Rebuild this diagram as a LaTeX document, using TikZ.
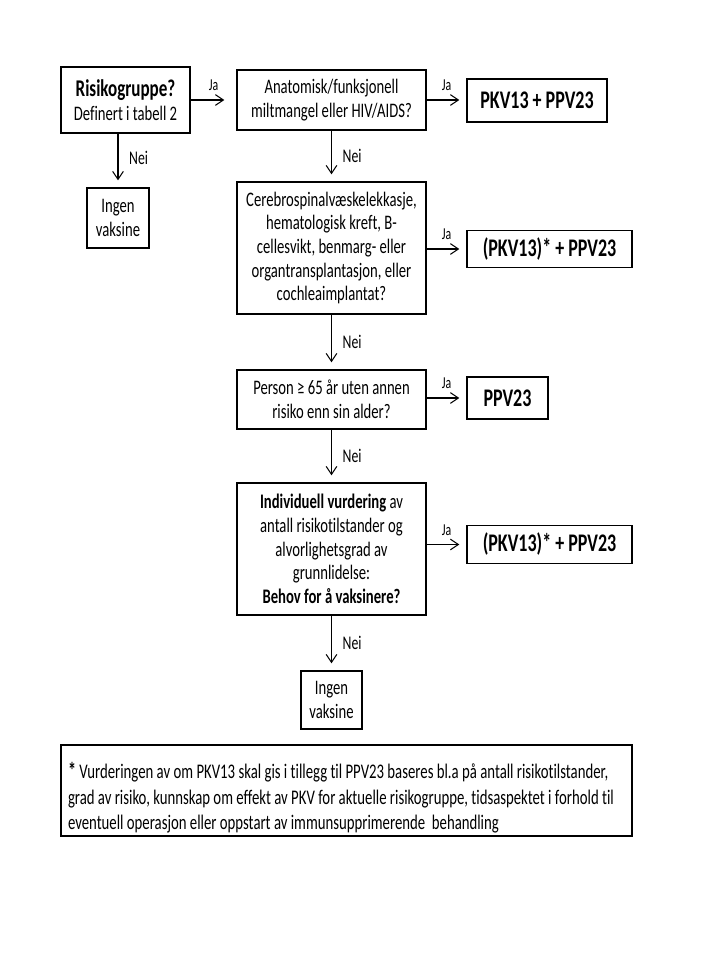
\documentclass[tikz,border=0pt]{standalone}
\usepackage{fontspec}
\setmainfont{Carlito}[FakeStretch=0.71, Ligatures=NoCommon]
\usetikzlibrary{arrows.meta}
\begin{document}
\begin{tikzpicture}[x=0.75pt,y=-0.75pt,
  every node/.style={execute at begin node={\spaceskip=0pt\xspaceskip=0pt}},
  box/.style={draw, line width=1pt, inner sep=0pt, align=center, font=\fontsize{15.5}{17.75}\selectfont},
  res/.style={box, font=\bfseries\fontsize{19}{22}\selectfont},
  arr/.style={-{Straight Barb[length=6pt,width=8pt]}, line width=0.8pt, shorten >=5.25pt},
  ja/.style={above=6.5pt, inner sep=0pt, font=\fontsize{12.5}{14}\selectfont},
  nei/.style={right=8pt, inner sep=0pt, font=\fontsize{14.5}{16}\selectfont}]
\useasboundingbox (0,0) rectangle (720,960);
\fill[white] (0,0) rectangle (720,960);

\node[box, minimum width=96.75pt, minimum height=49.5pt] (R) at (125.5,100)
  {{\bfseries\fontsize{18}{19.5}\selectfont Risikogruppe?}\\Definert i tabell 2};
\node[box, minimum width=141.75pt, minimum height=45pt] (A) at (331.5,100)
  {Anatomisk/funksjonell\\miltmangel eller HIV/AIDS?};
\node[res, minimum width=105pt, minimum height=32.25pt] (P1) at (537,100.5) {PKV13 + PPV23};
\node[box, minimum width=46.5pt, minimum height=45pt] (I1) at (118,218) {Ingen\\vaksine};
\node[box, minimum width=141.75pt, minimum height=99pt] (C) at (331.5,248)
  {Cerebrospinalvæskelekkasje,\\hematologisk kreft, B-\\cellesvikt, benmarg- eller\\organtransplantasjon, eller\\cochleaimplantat?};
\node[res, minimum width=123.75pt, minimum height=27.75pt] (P2) at (549.5,249) {(PKV13)* + PPV23};
\node[box, minimum width=141.75pt, minimum height=44.25pt] (S) at (331.5,399.5)
  {Person ≥ 65 år uten annen\\risiko enn sin alder?};
\node[res, minimum width=60.75pt, minimum height=31.5pt] (P4) at (507.5,398) {PPV23};
\node[box, minimum width=141.75pt, minimum height=99pt] (V) at (331.5,549)
  {\textbf{Individuell vurdering} av\\antall risikotilstander og\\alvorlighetsgrad av\\grunnlidelse:\\\textbf{Behov for å vaksinere?}};
\node[res, minimum width=123.75pt, minimum height=28.5pt] (P3) at (549.5,544.5) {(PKV13)* + PPV23};
\node[box, minimum width=45.75pt, minimum height=43.5pt] (I2) at (331.5,700) {Ingen\\vaksine};
\node[draw, line width=1pt, inner xsep=5.25pt, inner ysep=0pt, text width=417.75pt,
  minimum height=68.25pt, align=left, font=\fontsize{15.6}{19}\selectfont] (F) at (346.5,790.5)
  {\rule{0pt}{23pt}{\bfseries\fontsize{17}{19}\selectfont*} Vurderingen av om PKV13 skal gis i tillegg til PPV23 baseres bl.a på  antall risikotilstander,\\grad av risiko, kunnskap om effekt av PKV for aktuelle risikogruppe, tidsaspektet i forhold til\\eventuell operasjon eller oppstart av immunsupprimerende \ behandling};

\draw[arr, shorten >=9pt] (R.east) -- node[ja]{Ja} (A.west);
\draw[arr] (A.east) -- node[ja]{Ja} (A.east -| P1.west);
\draw[arr] (C.east |- P2.west) -- node[ja]{Ja} (P2.west);
\draw[arr] (S.east |- P4.west) -- node[ja]{Ja} (P4.west);
\draw[arr] (V.east |- P3.west) -- node[ja]{Ja} (P3.west);

\draw[arr] (I1.north |- R.south) -- node[nei, pos=0.45]{Nei} (I1.north);
\draw[arr] (A.south) -- node[nei]{Nei} (C.north);
\draw[arr] (C.south) -- node[nei]{Nei} (S.north);
\draw[arr] (S.south) -- node[nei]{Nei} (V.north);
\draw[arr] (V.south) -- node[nei]{Nei} (I2.north);
\end{tikzpicture}
\end{document}
